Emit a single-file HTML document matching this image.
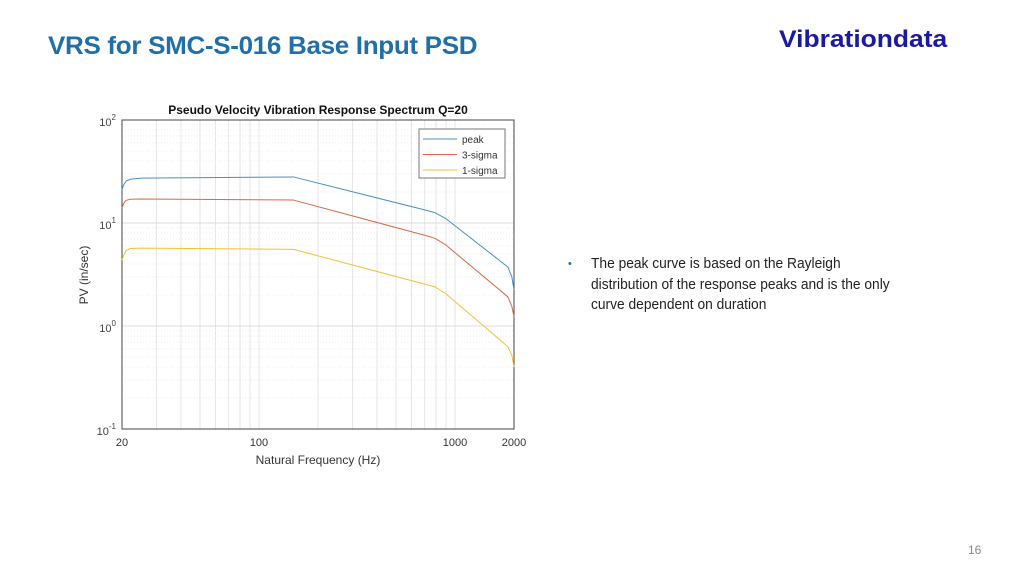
<!DOCTYPE html>
<html><head><meta charset="utf-8"><style>
body{margin:0;width:1024px;height:576px;background:#fff;position:relative;overflow:hidden;font-family:"Liberation Sans",sans-serif}
.t{position:absolute;white-space:nowrap}
</style></head><body>
<div class="t" style="left:48px;top:32px;font-size:25px;font-weight:bold;color:#1F6FA8;letter-spacing:-0.3px;transform:scaleX(1.04);transform-origin:left">VRS for SMC-S-016 Base Input PSD</div>
<div class="t" style="left:779px;top:26px;font-size:24px;font-weight:bold;color:#1a1aa0;transform:scaleX(1.1);transform-origin:left">Vibrationdata</div>
<div class="t" style="left:568px;top:254px;font-size:14.5px;line-height:20.5px;color:#222"><span style="position:absolute;left:0;font-size:11px;color:#1F6FA8">•</span><div style="margin-left:23px;transform:scaleX(0.95);transform-origin:left">The peak curve is based on the Rayleigh<br>distribution of the response peaks and is the only<br>curve dependent on duration</div></div>
<div class="t" style="left:968px;top:543px;font-size:12px;color:#888">16</div>
<svg id="chart" width="1024" height="576" style="position:absolute;left:0;top:0" font-family="Liberation Sans, sans-serif"></svg>
<script>
const freqs=[20,20.4,21,22,25,150,700,790,900,1860,1950,2000];
const peak=[20.9,23.5,25.5,26.6,27.3,28.0,13.4,12.6,11.0,3.74,3.0,2.24];
const sigma3=[14,15.5,16.6,17.0,17.1,16.7,7.6,7.1,6.1,1.92,1.55,1.23];
const sigma1=[4.37,4.9,5.4,5.65,5.7,5.55,2.55,2.40,2.05,0.63,0.52,0.40];
const xTicks=[20,100,1000,2000];
const yExp=[-1,0,1,2];
const svg=document.getElementById('chart');
const NS='http://www.w3.org/2000/svg';
const L=122,R=514,T=120,B=429;
const X=f=>L+(Math.log10(f)-Math.log10(20))/2*(R-L);
const Y=v=>B-(Math.log10(v)+1)/3*(B-T);
function mk(t,a,p){const e=document.createElementNS(NS,t);for(const k in a)e.setAttribute(k,a[k]);(p||svg).appendChild(e);return e;}
let g=mk('g',{});


for(let d=1;d<=1000;d*=10)for(let m=1;m<10;m++){const f=d*m;if(f<20||f>2000)continue;const x=X(f);mk('line',{x1:x,x2:x,y1:T,y2:B,stroke:'#e6e6e6','stroke-width':1},g);}
for(let e=-1;e<2;e++)for(let m=1;m<10;m++){const y=Y(m*Math.pow(10,e));mk('line',{x1:L,x2:R,y1:y,y2:y,stroke:m==1?'#dcdcdc':'#ececec','stroke-width':1,'stroke-dasharray':m==1?'':'1,2'},g);}
let ax=mk('rect',{x:L,y:T,width:R-L,height:B-T,fill:'none',stroke:'#444','stroke-width':1});


xTicks.forEach(f=>{const t=mk('text',{x:X(f),y:446,'font-size':11,fill:'#333','text-anchor':'middle'});t.textContent=f;

});
yExp.forEach(e=>{const y=Y(Math.pow(10,e));const t=mk('text',{x:116,y:y+6,'font-size':11,fill:'#444','text-anchor':'end'});t.innerHTML='10<tspan dy="-6" font-size="8">'+e+'</tspan>';

});
let tt=mk('text',{x:318,y:114,'font-size':12,'font-weight':'bold','text-anchor':'middle',fill:'#111'});tt.textContent='Pseudo Velocity Vibration Response Spectrum Q=20';


let xt=mk('text',{x:318,y:464,'font-size':12,'text-anchor':'middle',fill:'#333'});xt.textContent='Natural Frequency (Hz)';


let yt=mk('text',{x:0,y:0,'font-size':12,'text-anchor':'middle',fill:'#333',transform:'translate(88,275) rotate(-90)'});yt.textContent='PV (in/sec)';


const series=[['peak',peak,'#4a90c2'],['3-sigma',sigma3,'#d9694a'],['1-sigma',sigma1,'#f0c23a']];
series.forEach(([n,v,c])=>{const p=mk('polyline',{points:freqs.map((f,i)=>X(f)+','+Y(v[i])).join(' '),fill:'none',stroke:c,'stroke-width':1,'stroke-linejoin':'round'});

});
let lg=mk('g',{});


mk('rect',{x:419,y:129,width:86,height:49,fill:'#fff',stroke:'#777','stroke-width':1},lg);
series.forEach(([n,v,c],i)=>{const y=139+i*15.5;mk('line',{x1:423,x2:457,y1:y,y2:y,stroke:c,'stroke-width':1},lg);const t=mk('text',{x:462,y:y+4,'font-size':10,fill:'#333'},lg);t.textContent=n;

});
</script>
</body></html>
